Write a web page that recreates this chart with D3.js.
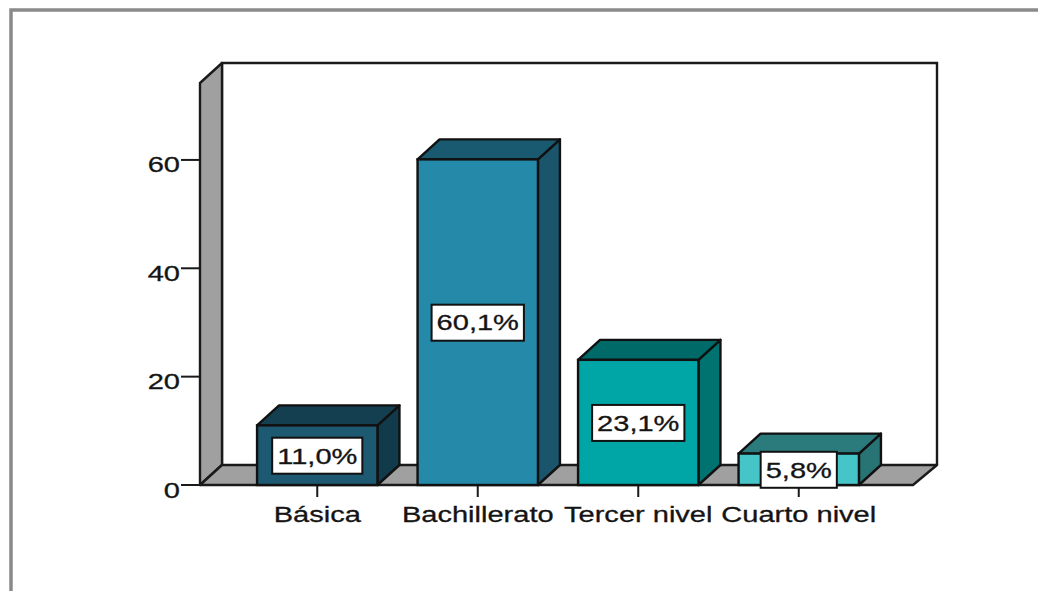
<!DOCTYPE html>
<html>
<head>
<meta charset="utf-8">
<script src="https://cdn.jsdelivr.net/npm/d3@7"></script>
<style>
  html, body { margin: 0; padding: 0; background: #ffffff; }
  svg { display: block; }
  text { font-family: "Liberation Sans", Arial, sans-serif; fill: #141414; stroke: #141414; stroke-width: 0.3; }
</style>
</head>
<body>
<svg id="chart" width="1038" height="591"></svg>
<script>
// Nivel de instrucción (%)
const categories = ["Básica", "Bachillerato", "Tercer nivel", "Cuarto nivel"];
const percentages = [11.0, 60.1, 23.1, 5.8];
const valueLabels = ["11,0%", "60,1%", "23,1%", "5,8%"];
const yTicks = [0, 20, 40, 60];

// face colours per bar: front, top, side
const frontColors = ["#1d5a72", "#2589aa", "#00a6a6", "#45c5c8"];
const topColors   = ["#143f50", "#1a5a70", "#006a68", "#2b7b7c"];
const sideColors  = ["#113a4a", "#1b556b", "#007270", "#287474"];

const svg = d3.select("#chart");
const W = 1038, H = 591;

// depth offset of the 3D box
const DX = 22, DY = -20;
const FONT = 22, STRETCH = 1.32;
const SW = 2.4;

const y = d3.scaleLinear().domain([0, 74.2]).range([485, 83]);
const x = d3.scaleBand().domain(categories).range([237, 879])
  .paddingInner(0.25).paddingOuter(0.125);

const floorLeft = 200, floorRight = 913;
const y0 = y(0);

// outer frame
svg.append("path")
  .attr("d", `M11,${H} L11,10 L${W},10`)
  .attr("fill", "none").attr("stroke", "#8a8a8a").attr("stroke-width", 3.5);

const line = d3.line();

// back wall
svg.append("path")
  .attr("d", line([[floorLeft + DX, y0 + DY], [floorLeft + DX, y.range()[1] + DY],
                   [floorRight + DX + 2, y.range()[1] + DY], [floorRight + DX + 2, y0 + DY]]))
  .attr("fill", "#ffffff").attr("stroke", "#1a1a1a").attr("stroke-width", SW);

// left wall
svg.append("path")
  .attr("d", line([[floorLeft, y0], [floorLeft, y.range()[1]], [floorLeft + DX, y.range()[1] + DY],
                   [floorLeft + DX, y0 + DY]]) + "Z")
  .attr("fill", "#a0a0a0").attr("stroke", "#1a1a1a").attr("stroke-width", SW)
  .attr("stroke-linejoin", "round");

// floor
svg.append("path")
  .attr("d", line([[floorLeft, y0], [floorLeft + DX, y0 + DY], [floorRight + DX + 2, y0 + DY],
                   [floorRight, y0]]) + "Z")
  .attr("fill", "#a0a0a0").attr("stroke", "#1a1a1a").attr("stroke-width", SW)
  .attr("stroke-linejoin", "round");

// y axis ticks and labels
const yAxis = svg.append("g");
yTicks.forEach(t => {
  yAxis.append("line")
    .attr("x1", 181).attr("x2", floorLeft)
    .attr("y1", y(t)).attr("y2", y(t))
    .attr("stroke", "#1a1a1a").attr("stroke-width", 2);
  yAxis.append("text")
    .attr("transform", `translate(180,${y(t) + 12.5}) scale(${STRETCH},1)`)
    .attr("text-anchor", "end")
    .attr("font-size", FONT)
    .text(t);
});

// x axis ticks and labels
const xAxis = svg.append("g");
categories.forEach(c => {
  const cx = x(c) + x.bandwidth() / 2;
  xAxis.append("line")
    .attr("x1", cx).attr("x2", cx).attr("y1", y0).attr("y2", y0 + 12)
    .attr("stroke", "#1a1a1a").attr("stroke-width", 2);
  xAxis.append("text")
    .attr("transform", `translate(${cx},522) scale(${STRETCH},1)`)
    .attr("text-anchor", "middle")
    .attr("font-size", FONT)
    .text(c);
});

// 3D bars
const bars = svg.append("g").selectAll("g").data(percentages).join("g");
bars.each(function (v, i) {
  const g = d3.select(this);
  const bx = x(categories[i]), bw = x.bandwidth(), by = y(v);
  g.append("path")
    .attr("d", line([[bx + bw, by], [bx + bw + DX, by + DY], [bx + bw + DX, y0 + DY], [bx + bw, y0]]) + "Z")
    .attr("fill", sideColors[i]).attr("stroke", "#111").attr("stroke-width", SW)
    .attr("stroke-linejoin", "round");
  g.append("path")
    .attr("d", line([[bx, by], [bx + DX, by + DY], [bx + bw + DX, by + DY], [bx + bw, by]]) + "Z")
    .attr("fill", topColors[i]).attr("stroke", "#111").attr("stroke-width", SW)
    .attr("stroke-linejoin", "round");
  g.append("rect")
    .attr("x", bx).attr("y", by).attr("width", bw).attr("height", y0 - by)
    .attr("fill", frontColors[i]).attr("stroke", "#111").attr("stroke-width", SW);

  // value label box
  const cx = bx + bw / 2, cy = (by + y0) / 2 + 0.5;
  const lbl = g.append("g");
  const txt = lbl.append("text")
    .attr("transform", `translate(${cx},${cy + 7.8}) scale(${STRETCH},1)`)
    .attr("text-anchor", "middle")
    .attr("font-size", FONT)
    .text(valueLabels[i]);
  const tw = txt.node().getBBox().width * STRETCH;
  lbl.insert("rect", "text")
    .attr("x", cx - tw / 2 - 5).attr("y", cy - 18)
    .attr("width", tw + 10).attr("height", 36)
    .attr("fill", "#ffffff").attr("stroke", "#111").attr("stroke-width", 2);
});
</script>
</body>
</html>
